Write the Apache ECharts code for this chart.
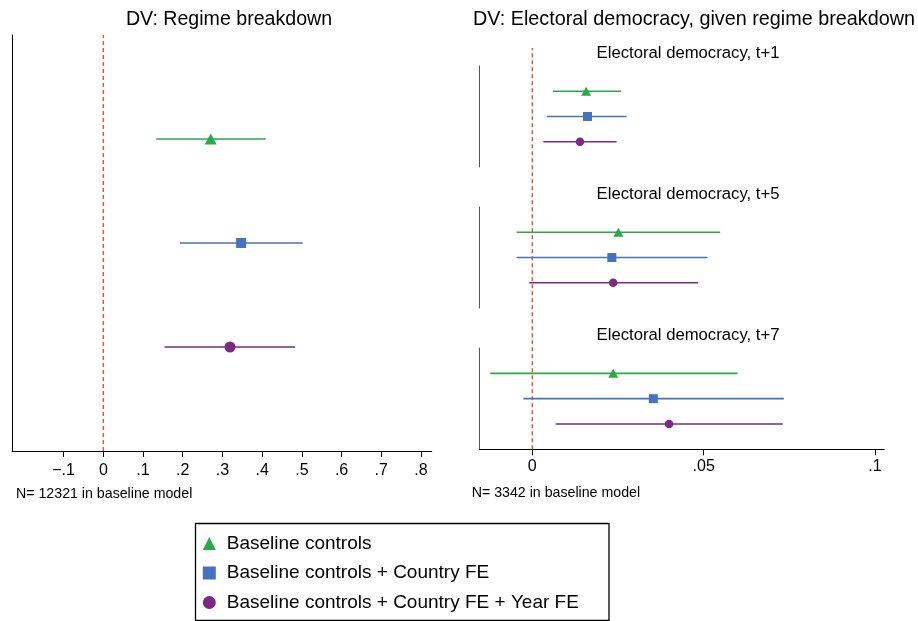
<!DOCTYPE html>
<html><head><meta charset="utf-8">
<script src="https://cdn.jsdelivr.net/npm/echarts@6/dist/echarts.min.js"></script>
<style>html,body{margin:0;padding:0;background:#fff}#c{width:918px;height:621px}</style>
</head><body><div id="c"></div>
<script>
// ---- data ----
const models = ['Baseline controls', 'Baseline controls + Country FE', 'Baseline controls + Country FE + Year FE'];
const rowPos = [3, 2, 1];
// Left panel: DV regime breakdown
const leftEst = [0.2705, 0.347, 0.319];
const leftLo = [0.133, 0.193, 0.154];
const leftHi = [0.409, 0.502, 0.483];
// Right panel: DV electoral democracy, given regime breakdown
const panelTitles = ['Electoral democracy, t+1', 'Electoral democracy, t+5', 'Electoral democracy, t+7'];
const t1Est = [0.0157, 0.0161, 0.0139];
const t1Lo = [0.0060, 0.0042, 0.0032];
const t1Hi = [0.0259, 0.0275, 0.0246];
const t5Est = [0.0251, 0.0232, 0.0236];
const t5Lo = [-0.0046, -0.0046, -0.0009];
const t5Hi = [0.0548, 0.0511, 0.0484];
const t7Est = [0.0236, 0.0353, 0.0399];
const t7Lo = [-0.0123, -0.0026, 0.0068];
const t7Hi = [0.0599, 0.0734, 0.0731];
const leftTicks = [-0.1, 0, 0.1, 0.2, 0.3, 0.4, 0.5, 0.6, 0.7, 0.8];
const leftTickLabels = ['\u2212.1', '0', '.1', '.2', '.3', '.4', '.5', '.6', '.7', '.8'];
const rightTicks = [0, 0.05, 0.1];
const rightTickLabels = ['0', '.05', '.1'];
const titles = ['DV: Regime breakdown', 'DV: Electoral democracy, given regime breakdown'];
const notes = ['N= 12321 in baseline model', 'N= 3342 in baseline model'];

// ---- styles ----
const FONT = '"Liberation Sans", Arial, Helvetica, sans-serif';
const colors = ['#2ba84a', '#4573c0', '#7a2a80'];
const symbols = ['triangle', 'rect', 'circle'];
const leftSizes = [[12, 11], [10, 10], [11, 11]];
const rightSizes = [[10, 9], [9, 9], [8.5, 8.5]];
const refColor = '#f4512c';

const leftRange = [-0.23, 0.827];
const rightRange = [-0.01547, 0.1027];

const chart = echarts.init(document.getElementById('c'), null, {renderer: 'canvas'});

const grids = [
  {left: 12, top: 35, width: 419.7, height: 416},
  {left: 479.3, top: 66, width: 405, height: 101},
  {left: 479.3, top: 207, width: 405, height: 101},
  {left: 479.3, top: 348, width: 405, height: 101.3},
  {left: 479.3, top: 48, width: 405, height: 401.3}
];

function fmt(ticks, labels) {
  return function (v) {
    for (let i = 0; i < ticks.length; i++) if (Math.abs(ticks[i] - v) < 1e-9) return labels[i];
    return '';
  };
}

const xAxes = [
  {gridIndex: 0, type: 'value', min: leftRange[0], max: leftRange[1],
   axisLine: {show: true, lineStyle: {color: '#000', width: 1}},
   axisTick: {show: true, length: 6, customValues: leftTicks, lineStyle: {color: '#000'}},
   axisLabel: {show: true, customValues: leftTicks, formatter: fmt(leftTicks, leftTickLabels), margin: 12,
     fontSize: 16, fontFamily: FONT, color: '#000'},
   splitLine: {show: false}},
  {gridIndex: 1, type: 'value', min: rightRange[0], max: rightRange[1], show: false},
  {gridIndex: 2, type: 'value', min: rightRange[0], max: rightRange[1], show: false},
  {gridIndex: 3, type: 'value', min: rightRange[0], max: rightRange[1],
   axisLine: {show: true, lineStyle: {color: '#000', width: 1}},
   axisTick: {show: true, length: 6, customValues: rightTicks, lineStyle: {color: '#000'}},
   axisLabel: {show: true, customValues: rightTicks, formatter: fmt(rightTicks, rightTickLabels), margin: 9,
     fontSize: 16, fontFamily: FONT, color: '#000'},
   splitLine: {show: false}},
  {gridIndex: 4, type: 'value', min: rightRange[0], max: rightRange[1], show: false}
];
const yAxes = [0, 1, 2, 3, 4].map(i => ({
  gridIndex: i, type: 'value', min: 0, max: i === 4 ? 1 : 4,
  axisLine: {show: i < 4, onZero: false, lineStyle: {color: i === 0 ? '#000' : '#555', width: 1}},
  axisTick: {show: false}, axisLabel: {show: false}, splitLine: {show: false}
}));

const series = [];
const panels = [
  {g: 0, est: leftEst, lo: leftLo, hi: leftHi, sizes: leftSizes},
  {g: 1, est: t1Est, lo: t1Lo, hi: t1Hi, sizes: rightSizes},
  {g: 2, est: t5Est, lo: t5Lo, hi: t5Hi, sizes: rightSizes},
  {g: 3, est: t7Est, lo: t7Lo, hi: t7Hi, sizes: rightSizes}
];
panels.forEach(p => {
  models.forEach((m, k) => {
    series.push({
      type: 'scatter', name: m, xAxisIndex: p.g, yAxisIndex: p.g,
      symbol: symbols[k], symbolSize: p.sizes[k],
      itemStyle: {color: colors[k], opacity: 1},
      data: [[p.est[k], rowPos[k]]], z: 4, silent: true
    });
  });
});
panels.forEach(p => {
  models.forEach((m, k) => {
    series.push({
      type: 'custom', name: 'ci_' + p.g + '_' + k, xAxisIndex: p.g, yAxisIndex: p.g,
      data: [[p.lo[k], p.hi[k], rowPos[k]]], z: 3, silent: true,
      renderItem: function (params, api) {
        const a = api.coord([api.value(0), api.value(2)]);
        const b = api.coord([api.value(1), api.value(2)]);
        return {type: 'line', shape: {x1: a[0], y1: a[1], x2: b[0], y2: b[1]},
          style: {stroke: colors[k], lineWidth: 1.6}};
      }
    });
  });
});
series.push({type: 'line', name: 'ref0', xAxisIndex: 0, yAxisIndex: 0, data: [[0, 0], [0, 4]],
  symbol: 'none', silent: true, z: 2, lineStyle: {color: refColor, width: 1.5, type: [4, 3]}});
series.push({type: 'line', name: 'ref1', xAxisIndex: 4, yAxisIndex: 4, data: [[0, 0], [0, 1]],
  symbol: 'none', silent: true, z: 2, lineStyle: {color: refColor, width: 1.5, type: [4, 3]}});

const txt = (x, y, text, size, align) => ({type: 'text', x: x, y: y, silent: true,
  style: {text: text, fontSize: size, fontFamily: FONT, fill: '#000', align: align || 'center', verticalAlign: 'middle'}});

const graphic = [
  txt(229, 20, titles[0], 19.6),
  txt(473, 20, titles[1], 19.8, 'left'),
  txt(688, 53, panelTitles[0], 16.7),
  txt(688, 194, panelTitles[1], 16.7),
  txt(688, 335, panelTitles[2], 16.7),
  txt(16, 494, notes[0], 14.2, 'left'),
  txt(471.7, 493, notes[1], 14.2, 'left'),
  {type: 'rect', shape: {x: 195.5, y: 523.5, width: 413.5, height: 97}, silent: true,
   style: {fill: '#fff', stroke: '#000', lineWidth: 1.3}, z: 0}
];

chart.setOption({
  animation: false,
  backgroundColor: '#fff',
  grid: grids,
  xAxis: xAxes,
  yAxis: yAxes,
  legend: {
    data: models, orient: 'vertical', left: 202.8, top: 533.5, padding: 0,
    itemWidth: 13, itemHeight: 13, itemGap: 9.5, selectedMode: false, z: 10,
    textStyle: {fontSize: 19, lineHeight: 20, fontFamily: FONT, color: '#000', padding: [0, 0, 0, 6]}
  },
  graphic: graphic,
  series: series
});
</script>
</body></html>
